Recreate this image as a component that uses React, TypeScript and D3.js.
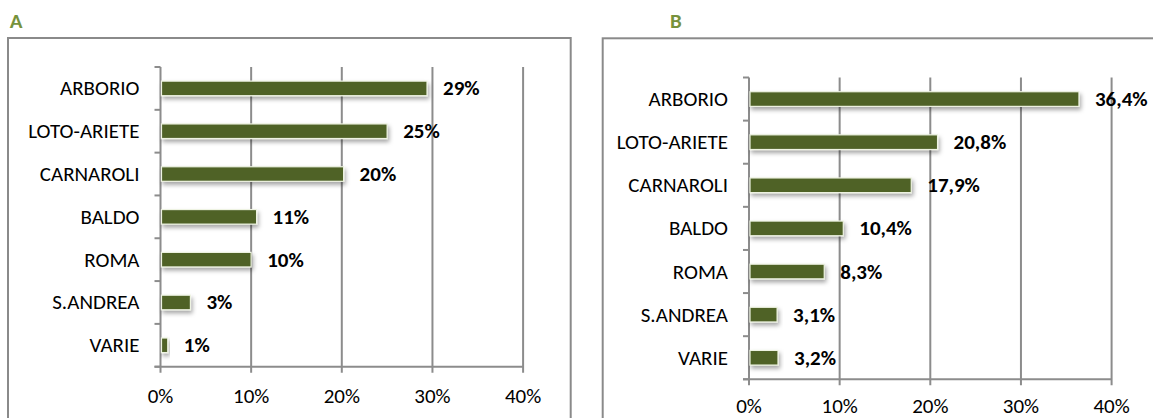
import React from "react";
import * as d3 from "d3";

const categories = ["ARBORIO", "LOTO-ARIETE", "CARNAROLI", "BALDO", "ROMA", "S.ANDREA", "VARIE"];
const valuesA = [29.4, 25.0, 20.2, 10.6, 10.0, 3.3, 0.8];
const valuesB = [36.4, 20.8, 17.9, 10.4, 8.3, 3.1, 3.2];
const ticks = [0, 10, 20, 30, 40];
const titles = ["A", "B"];

const FONT = "Carlito, Calibri, Lato, sans-serif";
const BAR = "#4F6228";
const GRID = "#8C8C8C";

type PanelProps = {
  title: string;
  values: number[];
  fmt: (v: number) => string;
  box: { x: number; y: number; w: number; h: number };
  titleX: number;
  x0: number;
  y0: number;
  y1: number;
  labelDy: number;
};

function Panel({ title, values, fmt, box, titleX, x0, y0, y1, labelDy }: PanelProps) {
  const x = d3.scaleLinear().domain([0, 40]).range([x0, x0 + 362.6]);
  const y = d3.scaleBand<string>().domain(categories).range([y0, y1]).paddingInner(0.66).paddingOuter(0.33);
  const step = y.step();
  return (
    <g>
      <text x={titleX} y={28} fontFamily={FONT} fontWeight="bold" fontSize={21} fill="#76923C" textAnchor="middle">
        {title}
      </text>
      <rect x={box.x} y={box.y} width={box.w} height={box.h} fill="#fff" stroke="#8A8A8A" strokeWidth={2} />
      {ticks.map((t) => (
        <line key={t} x1={x(t)} x2={x(t)} y1={y0} y2={y1 + 6} stroke={GRID} strokeWidth={2} />
      ))}
      <line x1={x0 - 6} x2={x(40)} y1={y1} y2={y1} stroke={GRID} strokeWidth={2} />
      {d3.range(categories.length + 1).map((i) => (
        <line key={i} x1={x0 - 6} x2={x0} y1={y0 + i * step} y2={y0 + i * step} stroke={GRID} strokeWidth={2} />
      ))}
      {categories.map((c, i) => (
        <g key={c}>
          <rect
            x={x(0) + 1}
            y={y(c)!}
            width={x(values[i]) - x(0) - 1}
            height={y.bandwidth()}
            fill={BAR}
            stroke="#EEF3E2"
            strokeWidth={1.2}
            filter="url(#shadow)"
          />
          <text
            x={x0 - 21}
            y={y(c)! + y.bandwidth() / 2}
            textAnchor="end"
            dominantBaseline="central"
            fontFamily={FONT}
            fontSize={21}
            fill="#000"
          >
            {c}
          </text>
          <text
            x={x(values[i]) + 16}
            y={y(c)! + y.bandwidth() / 2}
            dominantBaseline="central"
            fontFamily={FONT}
            fontWeight="bold"
            fontSize={21}
            fill="#000"
          >
            {fmt(values[i])}
          </text>
        </g>
      ))}
      {ticks.map((t) => (
        <text
          key={t}
          x={x(t)}
          y={y1 + labelDy}
          textAnchor="middle"
          dominantBaseline="central"
          fontFamily={FONT}
          fontSize={21}
          fill="#000"
        >
          {t}%
        </text>
      ))}
    </g>
  );
}

export default function App() {
  return (
    <svg width={1153} height={418} style={{ position: "absolute", left: 0, top: 0, background: "#fff" }}>
      <defs>
        <filter id="shadow" x="-10%" y="-50%" width="130%" height="250%">
          <feDropShadow dx={1.5} dy={3} stdDeviation={2} floodColor="#000" floodOpacity={0.35} />
        </filter>
      </defs>
      <rect width={1153} height={418} fill="#fff" />
      <Panel
        title={titles[0]}
        values={valuesA}
        fmt={(v) => `${Math.round(v)}%`}
        box={{ x: 8, y: 38, w: 562.7, h: 400 }}
        titleX={16}
        x0={160.5}
        y0={67}
        y1={366.7}
        labelDy={29}
      />
      <Panel
        title={titles[1]}
        values={valuesB}
        fmt={(v) => `${v.toFixed(1).replace(".", ",")}%`}
        box={{ x: 602.7, y: 38.3, w: 562.7, h: 400 }}
        titleX={676}
        x0={749}
        y0={77.5}
        y1={379.3}
        labelDy={27}
      />
    </svg>
  );
}
